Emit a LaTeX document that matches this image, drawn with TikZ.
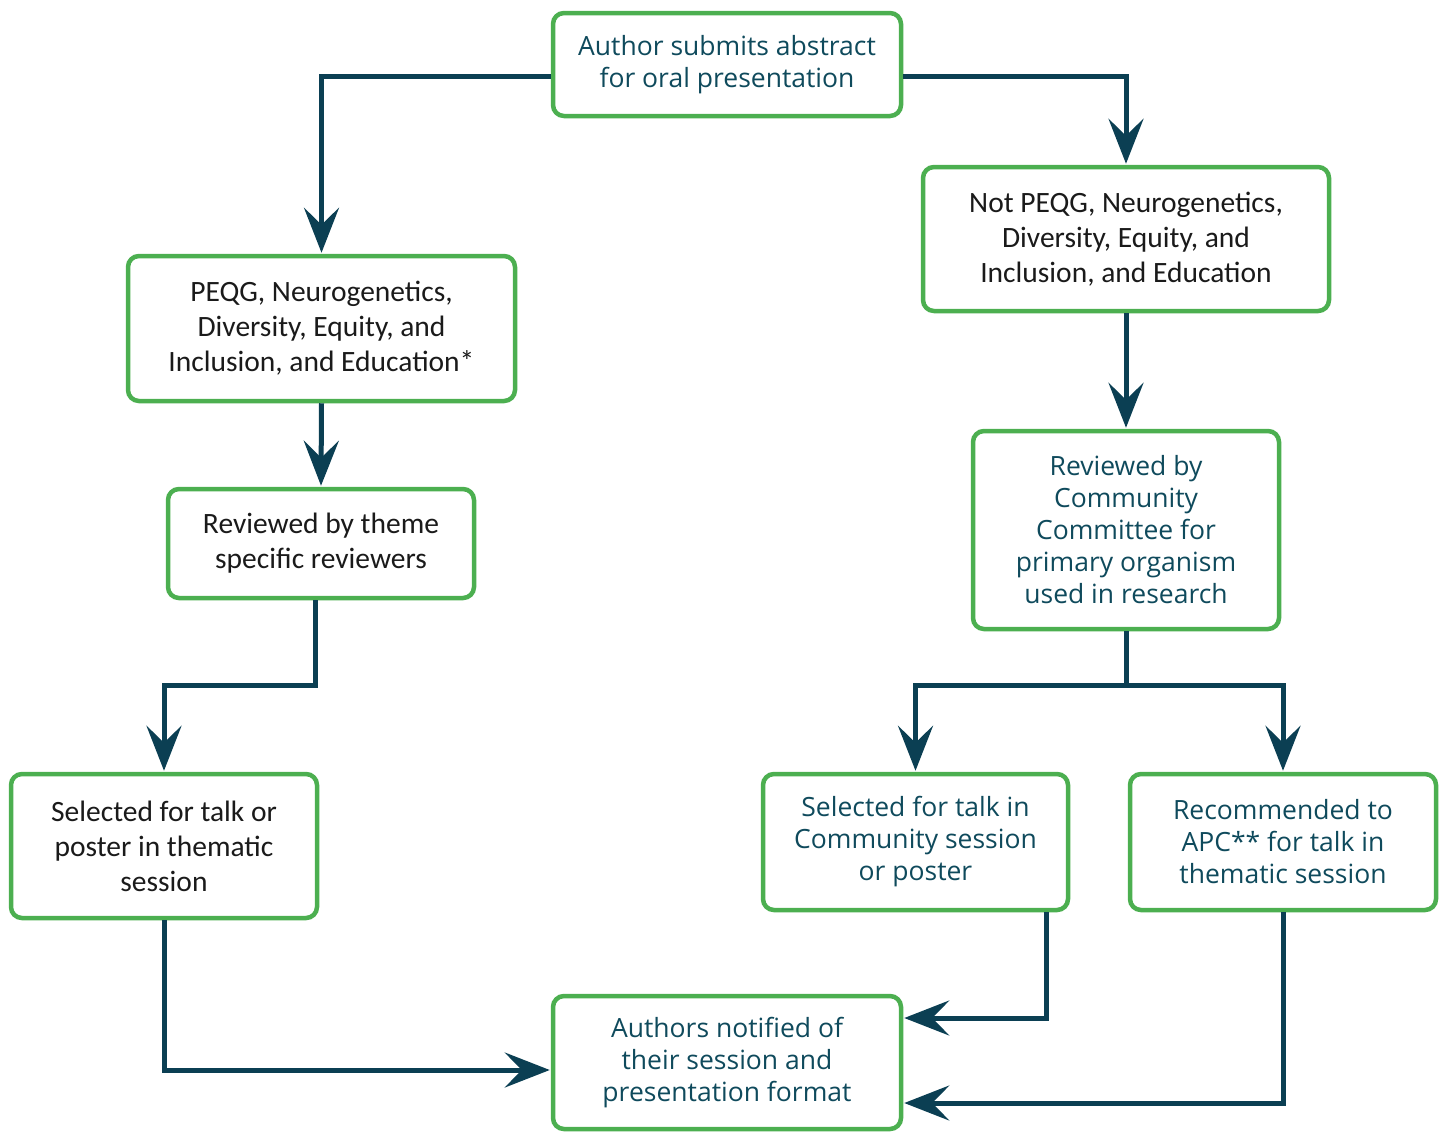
\documentclass[tikz,border=0pt]{standalone}
\usepackage{fontspec}
\setmainfont{Open Sans}
\newfontfamily\calfont{Carlito}
\usetikzlibrary{arrows.meta}
\definecolor{boxgreen}{HTML}{4CAF50}
\definecolor{arrowc}{HTML}{0B3F53}
\definecolor{tealtext}{HTML}{0F4A5C}
\definecolor{blktext}{HTML}{1A1A1A}
\begin{document}
\begin{tikzpicture}[x=1pt,y=-1pt,
  box/.style={draw=boxgreen, line width=4.5pt, rounded corners=11pt, align=center, inner sep=0pt},
  tealbox/.style={box, text=tealtext, font=\fontsize{26.5}{32}\selectfont},
  blkbox/.style={box, text=blktext, font=\calfont\fontsize{29.5}{35}\selectfont},
  conn/.style={draw=arrowc, line width=5pt, -{Stealth[length=45pt,width=35pt,inset=17pt]}, shorten >=1pt}
]
\useasboundingbox (0,0) rectangle (1443,1133);

\node[tealbox, minimum width=348pt, minimum height=103pt] (A) at (727,64.5) {Author submits abstract\\for oral presentation};
\node[blkbox, minimum width=387pt, minimum height=145pt] (P) at (321.5,328.5) {PEQG, Neurogenetics,\\Diversity, Equity, and\\Inclusion, and Education*};
\node[blkbox, minimum width=306pt, minimum height=109pt] (RT) at (321,543.5) {Reviewed by theme\\specific reviewers};
\node[blkbox, minimum width=306pt, minimum height=144pt] (ST) at (164,846) {Selected for talk or\\poster in thematic\\session};
\node[blkbox, minimum width=406pt, minimum height=144pt] (N) at (1126,239) {Not PEQG, Neurogenetics,\\Diversity, Equity, and\\Inclusion, and Education};
\node[tealbox, minimum width=306pt, minimum height=198pt] (RC) at (1126,530) {Reviewed by\\Community\\Committee for\\primary organism\\used in research};
\node[tealbox, minimum width=305pt, minimum height=136pt] (SC) at (915.5,842) {Selected for talk in\\Community session\\or poster};
\node[tealbox, minimum width=306pt, minimum height=136pt] (RA) at (1283,842) {Recommended to\\APC** for talk in\\thematic session};
\node[tealbox, minimum width=348pt, minimum height=133pt] (AN) at (727,1062.5) {Authors notified of\\their session and\\presentation format};

\coordinate (ytop) at (0,76);
\coordinate (b1) at (315,685);
\coordinate (c1) at (0,1070);
\coordinate (c2) at (0,685);
\coordinate (c3) at (1046,1018);
\coordinate (c4) at (0,1103);

\draw[conn] (A.west |- ytop) -| (P.north);
\draw[conn] (A.east |- ytop) -| (N.north);
\draw[conn] (P.south) -- (RT.north);
\draw[conn] (RT.south -| b1) -- (b1) -| (ST.north);
\draw[conn] (ST.south) |- (AN.west |- c1);
\draw[conn] (N.south) -- (RC.north);
\draw[conn] (RC.south) -- (RC.south |- c2) -| (SC.north);
\draw[conn] (RC.south) -- (RC.south |- c2) -| (RA.north);
\draw[conn] (SC.south -| c3) -- (c3) -- (AN.east |- c3);
\draw[conn] (RA.south) |- (AN.east |- c4);
\end{tikzpicture}
\end{document}
